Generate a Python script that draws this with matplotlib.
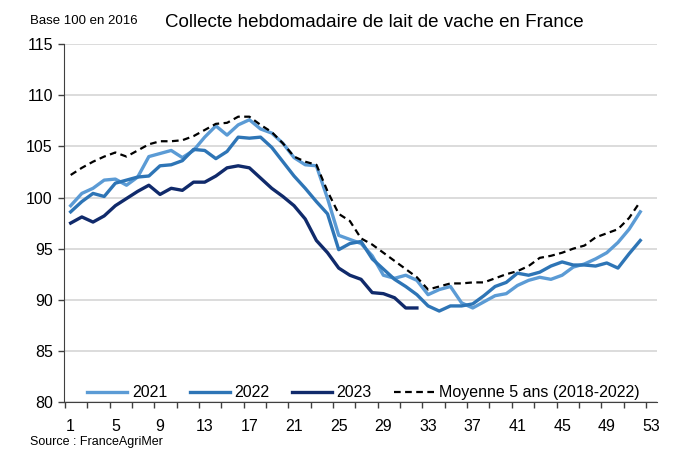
import matplotlib.pyplot as plt
import numpy as np

# semaines et indices (base 100 en 2016)
weeks = np.arange(1, 54)
y2021 = [99.2, 100.4, 100.9, 101.7, 101.8, 101.2, 102.0, 104.0, 104.3, 104.6,
         103.9, 104.6, 105.9, 107.0, 106.1, 107.1, 107.6, 106.7, 106.3, 105.3,
         103.9, 103.2, 103.1, 99.9, 96.3, 95.9, 95.5, 94.3, 92.4, 92.1,
         92.4, 91.9, 90.5, 91.0, 91.3, 89.7, 89.2, 89.8, 90.4, 90.6,
         91.4, 91.9, 92.2, 92.0, 92.4, 93.2, 93.5, 94.0, 94.6, 95.6,
         96.9, 98.6]
y2022 = [98.6, 99.6, 100.4, 100.1, 101.4, 101.7, 102.0, 102.1, 103.1, 103.2,
         103.6, 104.7, 104.6, 103.8, 104.5, 105.9, 105.8, 105.9, 104.9, 103.5,
         102.1, 100.9, 99.6, 98.4, 94.9, 95.5, 95.7, 94.0, 93.0, 92.0,
         91.3, 90.5, 89.4, 88.9, 89.4, 89.4, 89.6, 90.4, 91.3, 91.7,
         92.6, 92.4, 92.7, 93.3, 93.7, 93.4, 93.4, 93.3, 93.6, 93.1,
         94.5, 95.8]
y2023 = [97.5, 98.1, 97.6, 98.2, 99.2, 99.9, 100.6, 101.2, 100.3, 100.9,
         100.7, 101.5, 101.5, 102.1, 102.9, 103.1, 102.9, 101.9, 100.9, 100.1,
         99.2, 97.9, 95.8, 94.6, 93.1, 92.4, 92.0, 90.7, 90.6, 90.2,
         89.2, 89.2]
avg5 = [102.2, 102.9, 103.5, 104.0, 104.4, 104.0, 104.6, 105.2, 105.5, 105.5,
        105.6, 106.0, 106.6, 107.2, 107.3, 107.9, 107.9, 107.1, 106.4, 105.3,
        104.0, 103.5, 103.2, 100.6, 98.4, 97.7, 96.0, 95.4, 94.6, 93.8,
        93.0, 92.2, 91.0, 91.3, 91.6, 91.6, 91.7, 91.7, 92.1, 92.5,
        92.8, 93.3, 94.1, 94.3, 94.6, 95.0, 95.3, 96.1, 96.5, 96.9,
        98.0, 99.6]
labels = ['2021', '2022', '2023', 'Moyenne 5 ans (2018-2022)']
xticks = np.arange(1, 54, 4)
yticks = np.arange(80, 116, 5)

plt.rcParams['font.family'] = ['Liberation Sans', 'DejaVu Sans']

fig = plt.figure(figsize=(6.77, 4.59), dpi=100)
ax = fig.add_axes([0.0945, 0.124, 0.876, 0.78])

ax.plot(weeks[:len(y2021)], y2021, color='#5b9bd5', lw=2.4, label=labels[0])
ax.plot(weeks[:len(y2022)], y2022, color='#2e75b6', lw=2.4, label=labels[1])
ax.plot(weeks[:len(y2023)], y2023, color='#102a6b', lw=2.4, label=labels[2])
ax.plot(weeks[:len(avg5)], avg5, color='black', lw=1.6, ls=(0, (3, 2)), label=labels[3])

ax.set_xlim(0.4, 53.5)
ax.set_ylim(80, 115)
ax.set_yticks(yticks)
ax.set_xticks(xticks)
ax.set_xticks(np.arange(0.5, 53, 2), minor=True)
ax.tick_params(axis='x', which='major', length=0, pad=12, labelsize=11.5)
ax.tick_params(axis='x', which='minor', length=4, width=1, color='#404040')
ax.tick_params(axis='y', length=4, width=1, color='#404040', pad=4, labelsize=11.5)
ax.grid(axis='y', color='#d9d9d9', lw=1.3)
ax.set_axisbelow(True)
for s in ['top', 'right']:
    ax.spines[s].set_visible(False)
ax.spines['left'].set_color('#404040')
ax.spines['bottom'].set_color('#404040')
ax.spines['bottom'].set_zorder(3)

ax.legend(loc='lower center', bbox_to_anchor=(0.505, -0.035), ncol=4, frameon=False,
          fontsize=11.5, handlelength=2.5, columnspacing=1.4, handletextpad=0.3)

fig.text(0.045, 0.955, 'Base 100 en 2016', fontsize=9.5, va='center')
fig.text(0.553, 0.952, 'Collecte hebdomadaire de lait de vache en France', fontsize=13.5,
         ha='center', va='center')
fig.text(0.045, 0.037, 'Source : FranceAgriMer', fontsize=9, va='center')

plt.savefig('out.png', dpi=100)
